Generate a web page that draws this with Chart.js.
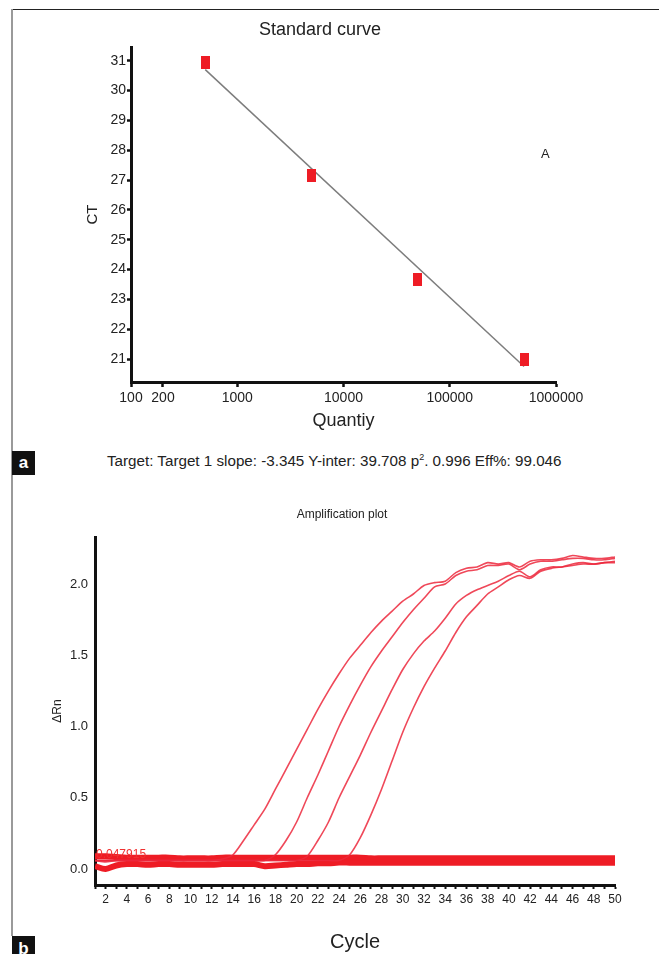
<!DOCTYPE html>
<html>
<head>
<meta charset="utf-8">
<title>Standard curve / Amplification plot</title>
<script src="https://cdn.jsdelivr.net/npm/chart.js@4.4.1/dist/chart.umd.min.js"></script>
<style>
    body { margin: 0; background: #fff; font-family: "Liberation Sans", Arial, Helvetica, sans-serif; color: #222; }
    #page { position: relative; width: 659px; height: 954px; overflow: hidden; background: #fff; }
    .abs { position: absolute; }
    .frame-top { left: 11px; top: 9px; width: 648px; height: 1px; background: #222; }
    .frame-left { left: 11px; top: 9px; width: 2px; height: 927px; background: #9a9a9a; }
    .panel-tag { width: 23px; background: #111; color: #fff; font-weight: bold; font-size: 17px; text-align: center; }
    #caption { left: 107px; top: 452px; font-size: 15.2px; white-space: nowrap; }
    #caption sup { font-size: 9px; }
    #markA { left: 541px; top: 146px; font-size: 13px; }
</style>
</head>
<body>
<div id="page">
    <div class="abs frame-top"></div>
    <div class="abs frame-left"></div>

    <canvas id="stdChart" class="abs" width="659" height="440" style="left:0;top:0;"></canvas>
    <div id="markA" class="abs">A</div>
    <div class="abs panel-tag" style="left:12px;top:451px;height:24px;line-height:24px;">a</div>
    <div id="caption" class="abs">Target: Target 1 slope: -3.345 Y-inter: 39.708 p<sup>2</sup>. 0.996 Eff%: 99.046</div>

    <canvas id="ampChart" class="abs" width="659" height="464" style="left:0;top:490px;"></canvas>
    <div class="abs panel-tag" style="left:12px;top:936px;height:24px;line-height:26px;">b</div>
</div>

<script>
// ======================================
// Data - standard curve (panel a)
// ======================================
const standardQty = [500, 5000, 50000, 500000];
const standardCt = [30.95, 27.15, 23.68, 20.97];
const fitQty = [500, 500000];
const fitCt = [30.7, 20.75];
const qtyTicks = [100, 200, 1000, 10000, 100000, 1000000];
const ctTicks = [21, 22, 23, 24, 25, 26, 27, 28, 29, 30, 31];

// ======================================
// Data - amplification plot (panel b)
// ======================================
const cycles = [1, 2, 3, 4, 5, 6, 7, 8, 9, 10, 11, 12, 13, 14, 15, 16, 17, 18, 19, 20,
    21, 22, 23, 24, 25, 26, 27, 28, 29, 30, 31, 32, 33, 34, 35, 36, 37, 38, 39, 40,
    41, 42, 43, 44, 45, 46, 47, 48, 49, 50];
const rnTicks = [0, 0.5, 1, 1.5, 2];
const threshold = 0.047915;

const curve1 = [0.06, 0.05, 0.06, 0.06, 0.06, 0.06, 0.06, 0.06, 0.06, 0.06, 0.06, 0.06, 0.07,
    0.10, 0.20, 0.31, 0.42, 0.56, 0.70, 0.84, 0.98, 1.12, 1.25, 1.37, 1.48, 1.57, 1.66, 1.74,
    1.81, 1.88, 1.93, 1.99, 2.01, 2.02, 2.08, 2.11, 2.12, 2.15, 2.14, 2.15, 2.12, 2.16, 2.17,
    2.17, 2.18, 2.20, 2.19, 2.18, 2.18, 2.19];
const curve2 = [0.06, 0.06, 0.06, 0.06, 0.06, 0.06, 0.06, 0.06, 0.06, 0.06, 0.06, 0.06, 0.06,
    0.06, 0.06, 0.06, 0.06, 0.10, 0.20, 0.33, 0.50, 0.66, 0.83, 1.00, 1.15, 1.29, 1.42, 1.53,
    1.63, 1.73, 1.82, 1.90, 1.98, 2.00, 2.06, 2.09, 2.10, 2.13, 2.13, 2.14, 2.10, 2.14, 2.16,
    2.16, 2.17, 2.18, 2.18, 2.17, 2.17, 2.18];
const curve3 = [0.06, 0.06, 0.06, 0.06, 0.06, 0.06, 0.06, 0.06, 0.06, 0.06, 0.06, 0.06, 0.06,
    0.06, 0.06, 0.06, 0.06, 0.06, 0.06, 0.06, 0.09, 0.20, 0.33, 0.50, 0.65, 0.80, 0.96, 1.11,
    1.26, 1.40, 1.51, 1.60, 1.67, 1.76, 1.86, 1.92, 1.96, 1.99, 2.02, 2.06, 2.09, 2.05, 2.10,
    2.12, 2.12, 2.14, 2.15, 2.14, 2.15, 2.16];
const curve4 = [0.06, 0.06, 0.06, 0.06, 0.06, 0.06, 0.06, 0.06, 0.06, 0.06, 0.06, 0.06, 0.06,
    0.06, 0.06, 0.06, 0.06, 0.06, 0.06, 0.06, 0.06, 0.06, 0.06, 0.06, 0.10, 0.22, 0.38, 0.56,
    0.76, 0.96, 1.13, 1.28, 1.41, 1.53, 1.66, 1.77, 1.85, 1.93, 1.98, 2.03, 2.06, 2.04, 2.09,
    2.11, 2.12, 2.13, 2.14, 2.14, 2.15, 2.15];

// flat (non amplified) wells form the thick band along the bottom
const bandUpper = [0.09, 0.09, 0.085, 0.08, 0.08, 0.08, 0.08, 0.08, 0.075, 0.075, 0.075, 0.075,
    0.08, 0.08, 0.08, 0.08, 0.08, 0.08, 0.08, 0.08, 0.08, 0.08, 0.08, 0.08, 0.08, 0.08, 0.075,
    0.075, 0.075, 0.075, 0.075, 0.075, 0.075, 0.075, 0.075, 0.075, 0.075, 0.075, 0.075, 0.075,
    0.075, 0.075, 0.075, 0.075, 0.075, 0.075, 0.075, 0.075, 0.075, 0.075];
const bandLower = [0.02, 0.0, 0.025, 0.035, 0.035, 0.03, 0.035, 0.035, 0.03, 0.03, 0.03, 0.03,
    0.035, 0.035, 0.035, 0.035, 0.02, 0.025, 0.03, 0.035, 0.035, 0.04, 0.04, 0.045, 0.045, 0.045,
    0.045, 0.045, 0.045, 0.045, 0.045, 0.045, 0.045, 0.045, 0.045, 0.045, 0.045, 0.045, 0.045,
    0.045, 0.045, 0.045, 0.045, 0.045, 0.045, 0.045, 0.045, 0.045, 0.045, 0.045];

// ======================================
// Shared settings
// ======================================
const FONT = '"Liberation Sans", Arial, Helvetica, sans-serif';
Chart.defaults.font.family = FONT;
Chart.defaults.color = "#222";

const RED = "#ee1c25";
const CURVE_RED = "rgba(236, 40, 60, 0.85)";

function axisLine(width) {
    return { display: true, color: "#111", width: width };
}

function outerTicks(len, width) {
    return {
        display: true,
        drawOnChartArea: false,
        drawTicks: true,
        tickLength: len,
        tickWidth: width,
        tickColor: "#111"
    };
}

// red standard marker: a small upright block
function makeMarker() {
    const c = document.createElement("canvas");
    c.width = 9;
    c.height = 13;
    const g = c.getContext("2d");
    g.fillStyle = RED;
    g.fillRect(0, 0, 9, 13);
    return c;
}

// ======================================
// Panel a - Standard curve
// ======================================
new Chart(document.getElementById("stdChart"), {
    type: "scatter",
    data: {
        datasets: [
            {
                data: standardQty.map((q, i) => ({ x: q, y: standardCt[i] })),
                pointStyle: makeMarker(),
                pointRadius: 6
            },
            {
                data: fitQty.map((q, i) => ({ x: q, y: fitCt[i] })),
                showLine: true,
                borderColor: "#7d7d7d",
                borderWidth: 1.5,
                pointRadius: 0
            }
        ]
    },
    options: {
        responsive: false,
        animation: false,
        events: [],
        layout: { padding: { left: 84, right: 103, top: 0, bottom: 0 } },
        plugins: {
            legend: { display: false },
            tooltip: { enabled: false },
            title: {
                display: true,
                text: "Standard curve",
                color: "#222",
                font: { size: 18, weight: "normal" },
                padding: { top: 19.2, bottom: 6.2 }
            }
        },
        scales: {
            x: {
                type: "logarithmic",
                min: 100,
                max: 1000000,
                afterBuildTicks: s => { s.ticks = qtyTicks.map(v => ({ value: v })); },
                afterFit: s => { s.height = 58; },
                ticks: {
                    callback: v => String(v),
                    autoSkip: false,
                    maxRotation: 0,
                    padding: 3,
                    color: "#222",
                    font: { size: 14 }
                },
                grid: outerTicks(5, 2.5),
                border: axisLine(3),
                title: {
                    display: true,
                    text: "Quantiy",
                    color: "#222",
                    font: { size: 18 },
                    padding: { top: 0, bottom: 8 }
                }
            },
            y: {
                min: 20.23,
                max: 31.46,
                afterBuildTicks: s => { s.ticks = ctTicks.map(v => ({ value: v })); },
                afterFit: s => { s.width = 47; },
                ticks: { padding: 1, color: "#222", font: { size: 14 } },
                grid: outerTicks(4, 2.5),
                border: axisLine(3),
                title: {
                    display: true,
                    text: "CT",
                    color: "#222",
                    font: { size: 15 },
                    padding: { top: 0, bottom: 0 }
                }
            }
        }
    }
});

// ======================================
// Panel b - Amplification plot
// ======================================
const thresholdLabel = {
    id: "thresholdLabel",
    afterDatasetsDraw(chart) {
        const { ctx, scales: { x, y } } = chart;
        ctx.save();
        ctx.fillStyle = "#f03030";
        ctx.font = "12px " + FONT;
        ctx.textBaseline = "bottom";
        ctx.fillText(threshold.toFixed(6), x.getPixelForValue(1) + 1, y.getPixelForValue(threshold) - 2);
        ctx.restore();
    }
};

function curveSet(values) {
    return {
        data: values,
        borderColor: CURVE_RED,
        borderWidth: 1.6,
        pointRadius: 0,
        tension: 0.25,
        fill: false
    };
}

function bandSet(values) {
    return {
        data: values,
        borderColor: RED,
        borderWidth: 6,
        pointRadius: 0,
        tension: 0.3,
        fill: false
    };
}

new Chart(document.getElementById("ampChart"), {
    type: "line",
    data: {
        labels: cycles,
        datasets: [
            curveSet(curve1),
            curveSet(curve2),
            curveSet(curve3),
            curveSet(curve4),
            bandSet(bandUpper),
            bandSet(bandLower)
        ]
    },
    options: {
        responsive: false,
        animation: false,
        events: [],
        layout: { padding: { left: 69, right: 44, top: 0, bottom: 0 } },
        plugins: {
            legend: { display: false },
            tooltip: { enabled: false },
            title: {
                display: true,
                text: "Amplification plot",
                color: "#222",
                font: { size: 12, weight: "normal" },
                padding: { top: 17.8, bottom: 14.8 }
            }
        },
        scales: {
            x: {
                type: "linear",
                min: 1,
                max: 50,
                afterBuildTicks: s => { s.ticks = cycles.map(v => ({ value: v })); },
                afterFit: s => { s.height = 69; },
                ticks: {
                    callback: v => (v % 2 === 0 ? String(v) : ""),
                    autoSkip: false,
                    maxRotation: 0,
                    padding: 3,
                    color: "#222",
                    font: { size: 12 }
                },
                grid: outerTicks(4, 2),
                border: axisLine(3),
                title: {
                    display: true,
                    text: "Cycle",
                    color: "#222",
                    font: { size: 20 },
                    padding: { top: 0, bottom: 0 }
                }
            },
            y: {
                min: -0.112,
                max: 2.33,
                afterBuildTicks: s => { s.ticks = rnTicks.map(v => ({ value: v })); },
                afterFit: s => { s.width = 26; },
                ticks: {
                    callback: v => v.toFixed(1),
                    padding: 7,
                    color: "#222",
                    font: { size: 13 }
                },
                grid: { display: false, drawTicks: false },
                border: axisLine(3),
                title: {
                    display: true,
                    text: "ΔRn",
                    color: "#222",
                    font: { size: 12 },
                    padding: { top: -18.6, bottom: 0 }
                }
            }
        }
    },
    plugins: [thresholdLabel]
});
</script>
</body>
</html>
